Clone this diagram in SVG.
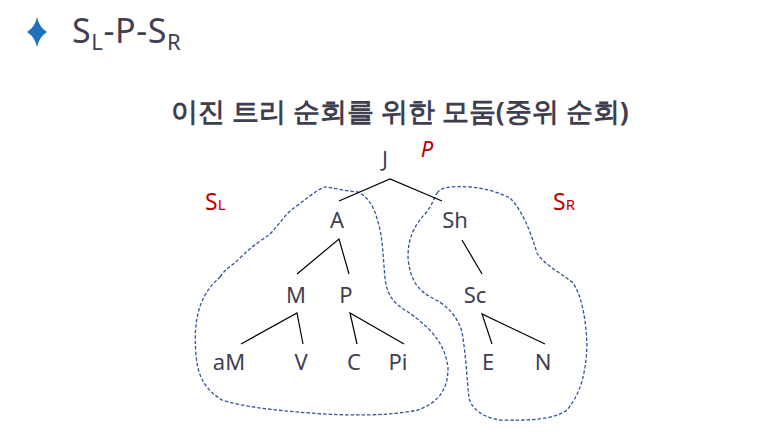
<svg xmlns="http://www.w3.org/2000/svg" width="761" height="436" viewBox="0 0 761 436">
<style>
.t{font-family:"Noto Sans","Open Sans","Liberation Sans",sans-serif;fill:#3f3f50}
.n{font-size:22px;text-anchor:middle}
.r{font-family:"Noto Sans","Liberation Sans",sans-serif;fill:#c00000}
.e{stroke:#000;stroke-width:1.2;fill:none}
.b{stroke:#2f5597;stroke-width:1.3;fill:none;stroke-dasharray:3.5 2}
</style>
<rect width="761" height="436" fill="#fff"/>
<g id="header">
<path d="M37 17 Q39 27 47 32 Q39 37 37 47 Q35 37 27 32 Q35 27 37 17 Z" fill="#1f6fbf"/>
<text class="t" x="72" y="43" font-size="34" letter-spacing="0.6">S<tspan font-size="22" dy="7">L</tspan><tspan dy="-7">-P-S</tspan><tspan font-size="22" dy="7">R</tspan></text>
<text class="t" x="400" y="121" font-size="26.5" font-weight="bold" text-anchor="middle" font-family="'Noto Sans CJK KR',sans-serif">이진 트리 순회를 위한 모둠(중위 순회)</text>
</g>
<g id="blobs">
<path class="b" d="M220 277 C226 268 232 266 240 258 C252 246 262 240 270 234 C280 224 285 214 294 208 C305 200 316 190 325 187 C335 188 345 191 358 192 C368 197 374 206 378 222 C383 238 383 258 385 278 C387 295 393 303 408 312 C425 324 445 340 448 368 C448 388 440 402 418 410 C390 416 350 416 310 413 C270 410 240 406 222 400 C206 390 198 378 196 355 C194 330 196 312 205 295 C210 286 215 282 220 277 Z"/>
<path class="b" d="M437 193 C442 187 450 186 470 187 C485 188 500 193 510 198 C522 210 530 230 537 253 C544 265 560 272 573 283 C582 296 586 320 587 345 C586 370 582 392 567 410 C555 419 530 421 500 420 C485 418 472 410 469 398 C467 380 466 355 462 332 C458 318 448 306 436 300 C420 292 410 283 408 257 C408 238 414 226 425 214 C432 206 434 198 437 193 Z"/>
</g>
<g id="edges">
<path class="e" d="M339 201 L390 179 L442 201"/>
<path class="e" d="M297 274 L339 239 L349 274"/>
<path class="e" d="M462 240 L482 274"/>
<path class="e" d="M241 344 L297 313 L303 344"/>
<path class="e" d="M357 344 L350 313 L404 344"/>
<path class="e" d="M492 344 L482 314 L545 344"/>
</g>
<g id="labels">
<text class="r" x="427" y="157" font-size="22" font-style="italic" text-anchor="middle">P</text>
<text class="r" x="205" y="210" font-size="23">S<tspan font-size="15">L</tspan></text>
<text class="r" x="553" y="210" font-size="23">S<tspan font-size="15">R</tspan></text>
</g>
<g id="node-J"><text class="t n" x="385" y="167">J</text></g>
<g id="node-A"><text class="t n" x="337" y="228">A</text></g>
<g id="node-Sh"><text class="t n" x="455" y="228">Sh</text></g>
<g id="node-M"><text class="t n" x="296" y="303">M</text></g>
<g id="node-P"><text class="t n" x="346" y="303">P</text></g>
<g id="node-Sc"><text class="t n" x="475" y="303">Sc</text></g>
<g id="node-aM"><text class="t n" x="229" y="370">aM</text></g>
<g id="node-V"><text class="t n" x="301" y="370">V</text></g>
<g id="node-C"><text class="t n" x="354" y="370">C</text></g>
<g id="node-Pi"><text class="t n" x="398" y="370">Pi</text></g>
<g id="node-E"><text class="t n" x="488" y="370">E</text></g>
<g id="node-N"><text class="t n" x="543" y="370">N</text></g>
</svg>
